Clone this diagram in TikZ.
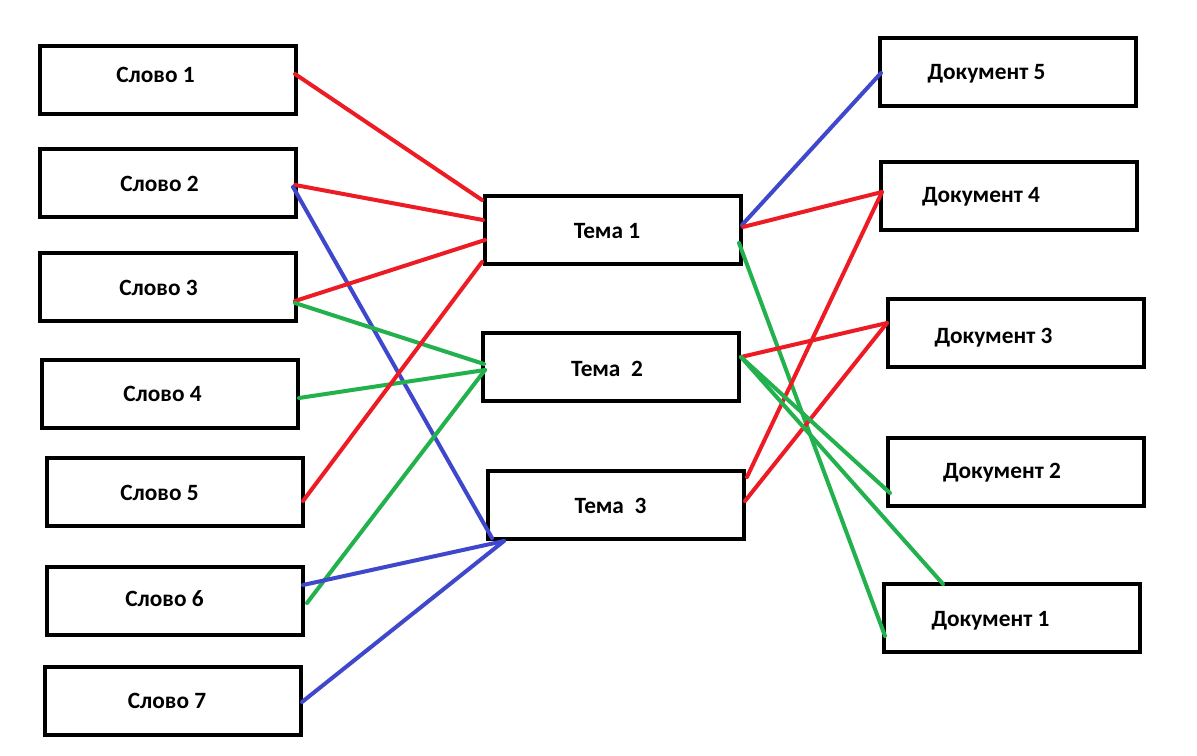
\documentclass[tikz,border=0pt]{standalone}
\usepackage{fontspec}
\setmainfont{Carlito}
\definecolor{pred}{HTML}{ED1C24}
\definecolor{pblue}{HTML}{3F48CC}
\definecolor{pgreen}{HTML}{22B14C}
\begin{document}
\begin{tikzpicture}[x=0.75pt,y=-0.75pt,
  box/.style={draw=black,line width=3.7pt,minimum width=192pt,minimum height=51pt,outer sep=0pt,inner sep=0pt},
  lbl/.style={anchor=base,font=\fontsize{17.5}{19}\selectfont\bfseries,inner sep=0pt},
  rl/.style={pred,line width=3pt,line cap=round},
  bl/.style={pblue,line width=3pt,line cap=round},
  gl/.style={pgreen,line width=3pt,line cap=round}]
\useasboundingbox[fill=white] (0,0) rectangle (1197,756);
% boxes
\node[box] (s1) at (168,80) {};
\node[box] (s2) at (168,183) {};
\node[box] (s3) at (168,287) {};
\node[box] (s4) at (170,394) {};
\node[box] (s5) at (175,492) {};
\node[box] (s6) at (175,601) {};
\node[box] (s7) at (173,701) {};
\node[box] (t1) at (613,230) {};
\node[box] (t2) at (611,367) {};
\node[box] (t3) at (616,505) {};
\node[box] (d5) at (1008,72) {};
\node[box] (d4) at (1009,196) {};
\node[box] (d3) at (1016,333) {};
\node[box] (d2) at (1016,472) {};
\node[box] (d1) at (1012,618) {};
% labels
\node[lbl] (ls1) at (155.5,83) {Слово 1};
\node[lbl] (ls2) at (159.5,192) {Слово 2};
\node[lbl] (ls3) at (158.5,295.5) {Слово 3};
\node[lbl] (ls4) at (162.5,401.5) {Слово 4};
\node[lbl] (ls5) at (159.5,500.5) {Слово 5};
\node[lbl] (ls6) at (164.5,606.5) {Слово 6};
\node[lbl] (ls7) at (167,708) {Слово 7};
\node[lbl] (lt1) at (607,239) {Тема 1};
\node[lbl] (lt2) at (607,376.5) {Тема\ \ 2};
\node[lbl] (lt3) at (610.5,513) {Тема\ \ 3};
\node[lbl] (ld5) at (986.5,80) {Документ 5};
\node[lbl] (ld4) at (981,202.5) {Документ 4};
\node[lbl] (ld3) at (993.5,344) {Документ 3};
\node[lbl] (ld2) at (1002,478) {Документ 2};
\node[lbl] (ld1) at (990.5,626.5) {Документ 1};
% left connectors
\draw[rl] ([shift={(-1,-6)}]s1.east) -- ([shift={(-3,-30)}]t1.west);
\draw[rl] ([shift={(-1,2)}]s2.east) -- ([shift={(-2,-10)}]t1.west);
\draw[bl] ([shift={(-3,4)}]s2.east) -- ([shift={(4,33)}]t3.west);
\draw[rl] ([shift={(-1,14)}]s3.east) -- ([shift={(0,10)}]t1.west);
\draw[gl] ([shift={(-1,16)}]s3.east) -- ([shift={(1,-3)}]t2.west);
\draw[gl] ([shift={(1,4)}]s4.east) -- ([shift={(2,3)}]t2.west);
\draw[rl] ([shift={(0,9)}]s5.east) -- ([shift={(-3,32)}]t1.west);
\draw[gl] ([shift={(4,2)}]s6.east) -- ([shift={(2,3)}]t2.west);
\draw[bl] ([shift={(0,-16)}]s6.east) -- ([shift={(16,36)}]t3.west);
\draw[bl] ([shift={(1,1)}]s7.east) -- ([shift={(16,36)}]t3.west);
% right connectors
\draw[bl] ([shift={(1,-5)}]t1.east) -- ([shift={(1,1)}]d5.west);
\draw[rl] ([shift={(2,-3)}]t1.east) -- ([shift={(1,-4)}]d4.west);
\draw[gl] ([shift={(-2,13)}]t1.east) -- ([shift={(1,18)}]d1.west);
\draw[rl] ([shift={(3,-28)}]t3.east) -- ([shift={(1,-4)}]d4.west);
\draw[rl] ([shift={(2,-10)}]t2.east) -- ([shift={(-1,-10)}]d3.west);
\draw[rl] ([shift={(1,-4)}]t3.east) -- ([shift={(-1,-10)}]d3.west);
\draw[gl] ([shift={(2,-10)}]t2.east) -- ([shift={(2,21)}]d2.west);
\draw[gl] ([shift={(2,-10)}]t2.east) -- ([shift={(59,0)}]d1.north west);
\end{tikzpicture}
\end{document}
